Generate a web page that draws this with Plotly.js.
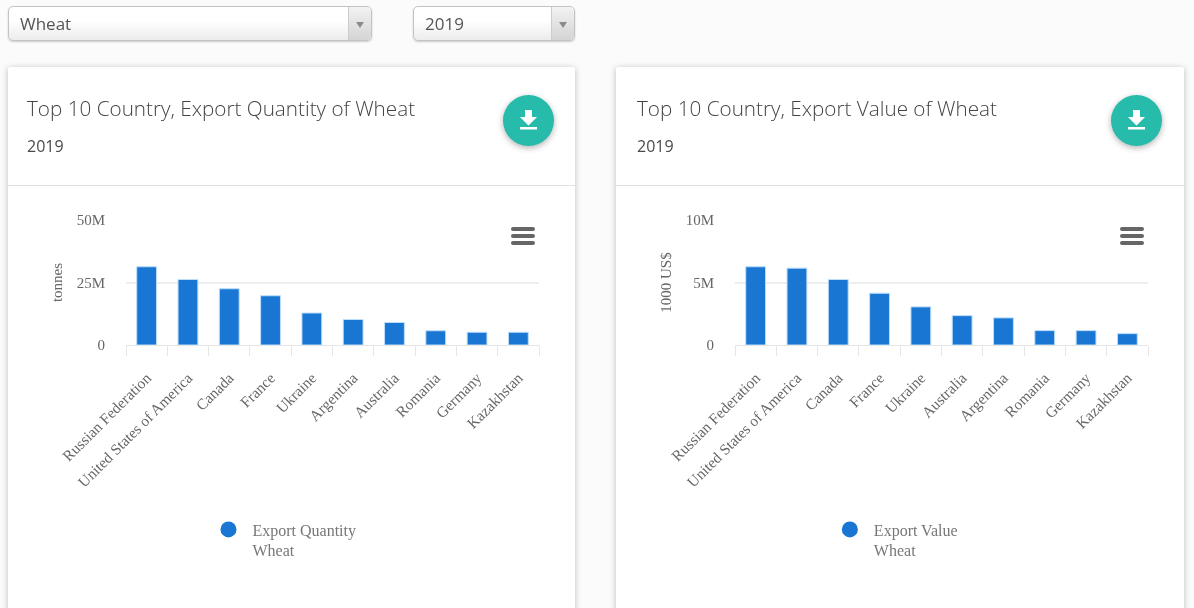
<!DOCTYPE html>
<html><head><meta charset="utf-8">
<script src="https://cdn.plot.ly/plotly-3.0.1.min.js"></script>
<style>
html,body{margin:0;padding:0;width:1194px;height:608px;overflow:hidden;background:#fbfbfb;font-family:"Open Sans",sans-serif;color:#4a4a4a}
body{filter:blur(.6px)}
.sel{position:absolute;top:6px;height:33px;border:1px solid #c4c4c4;border-radius:5px;background:linear-gradient(#fff 40%,#ececec);box-shadow:0 1px 2px rgba(0,0,0,.2);font-size:17px;line-height:34px;color:#555}
.sel span{position:absolute;left:11px;top:0}
.sel i{position:absolute;right:0;top:0;bottom:0;width:22px;border-left:1px solid #ccc;background:linear-gradient(#f2f2f2,#d4d4d4);border-radius:0 5px 5px 0}
.sel i:after{content:"";position:absolute;left:7px;top:15px;border:4px solid transparent;border-top:6px solid #8a8a8a}
.card{position:absolute;top:67px;height:560px;background:#fff;box-shadow:0 1px 6px rgba(0,0,0,.25);border-radius:2px}
.t{position:absolute;left:19px;top:27px;font-size:20.7px;font-weight:300;white-space:nowrap;color:#444}
.y{position:absolute;left:19px;top:68px;font-size:16px;font-weight:400;color:#4a4a4a}
.hr{position:absolute;left:0;right:0;top:118px;height:1px;background:#e0e0e0}
.fab{position:absolute;top:28px;width:51px;height:51px;border-radius:50%;background:#26bbaa;box-shadow:0 2px 6px rgba(0,0,0,.3)}
.fab svg{position:absolute;left:16px;top:14px}
.plot{position:absolute;left:0;top:125px;width:567px;height:416px}
.menu{position:absolute;top:160px;width:24px;height:19px}
.menu b{display:block;height:4px;border-radius:2px;background:#666;margin-bottom:3px}
</style></head><body>
<div class="sel" style="left:8px;width:362px"><span>Wheat</span><i></i></div>
<div class="sel" style="left:413px;width:160px"><span>2019</span><i></i></div>

<div class="card" style="left:8px;width:567px">
 <div class="t">Top 10 Country, Export Quantity of Wheat</div><div class="y">2019</div><div class="hr"></div>
 <div class="fab" style="left:495px"><svg width="19" height="22" viewBox="0 0 19 22"><path d="M6 1h7v7h5l-8.500 8.500L1 8h5z" fill="#fff"/><rect x="1" y="18" width="17" height="2.500" fill="#fff"/></svg></div>
 <div class="plot" id="c1"></div>
 <div class="menu" style="left:503px"><b></b><b></b><b></b></div>
</div>
<div class="card" style="left:616px;width:568px">
 <div class="t" style="left:21px">Top 10 Country, Export Value of Wheat</div><div class="y" style="left:21px">2019</div><div class="hr"></div>
 <div class="fab" style="left:495px"><svg width="19" height="22" viewBox="0 0 19 22"><path d="M6 1h7v7h5l-8.500 8.500L1 8h5z" fill="#fff"/><rect x="1" y="18" width="17" height="2.500" fill="#fff"/></svg></div>
 <div class="plot" id="c2"></div>
 <div class="menu" style="left:504px"><b></b><b></b><b></b></div>
</div>
<script>
const qtyCountries=["Russian Federation","United States of America","Canada","France","Ukraine","Argentina","Australia","Romania","Germany","Kazakhstan"];
const qtyValues=[31.3e6,26.2e6,22.5e6,19.7e6,12.8e6,10.2e6,9.0e6,5.7e6,5.1e6,5.1e6];
const valCountries=["Russian Federation","United States of America","Canada","France","Ukraine","Australia","Argentina","Romania","Germany","Kazakhstan"];
const valValues=[6.26e6,6.15e6,5.24e6,4.14e6,3.05e6,2.35e6,2.17e6,1.15e6,1.15e6,0.91e6];
const BLUE="#1976d2",serif='"Liberation Serif",serif';
function draw(id,cats,vals,yTitle,legend,max,step,left,legX){
 const H=416,W=567;
 Plotly.newPlot(id,[
  {type:"bar",x:cats,y:vals,marker:{color:BLUE,line:{color:"#bbdefb",width:1}},showlegend:false,hoverinfo:"x+y"},
  {type:"scatter",mode:"markers",x:[null],y:[null],name:legend,marker:{color:BLUE,size:16,symbol:"circle"},showlegend:true}
 ],{
  width:W,height:H,paper_bgcolor:"rgba(0,0,0,0)",plot_bgcolor:"rgba(0,0,0,0)",
  margin:{l:left,r:W-left-413,t:28,b:H-153},
  bargap:0.52,
  font:{family:serif,color:"#666",size:15},
  xaxis:{type:"category",categoryorder:"array",categoryarray:cats,tickson:"boundaries",ticks:"outside",ticklen:10,tickcolor:"#e6e6e6",tickwidth:1,
    showline:true,linecolor:"#e6e6e6",linewidth:1,showgrid:false,tickangle:-45,ticklabelstandoff:17,tickfont:{family:serif,size:15.3,color:"#666"},automargin:false,zeroline:false},
  yaxis:{range:[0,max],dtick:step,tick0:0,tickformat:"~s",showgrid:true,gridcolor:"#eeeeee",gridwidth:2,zeroline:false,showline:false,ticks:"",
    ticklabelstandoff:20,tickfont:{family:serif,size:15,color:"#666"},automargin:false,
    title:{text:yTitle,font:{family:serif,size:15,color:"#666"},standoff:10}},
  legend:{x:legX,xref:"paper",xanchor:"left",y:-1.34,yref:"paper",yanchor:"top",valign:"top",font:{family:serif,size:16,color:"#777"},itemwidth:38,bgcolor:"rgba(0,0,0,0)",tracegroupgap:0}
 },{displayModeBar:false});
}
draw("c1",qtyCountries,qtyValues,"tonnes","Export Quantity<br>Wheat",50e6,25e6,118,0.19);
draw("c2",valCountries,valValues,"1000 US$","Export Value<br>Wheat",10e6,5e6,119,0.22);
</script>
</body></html>
